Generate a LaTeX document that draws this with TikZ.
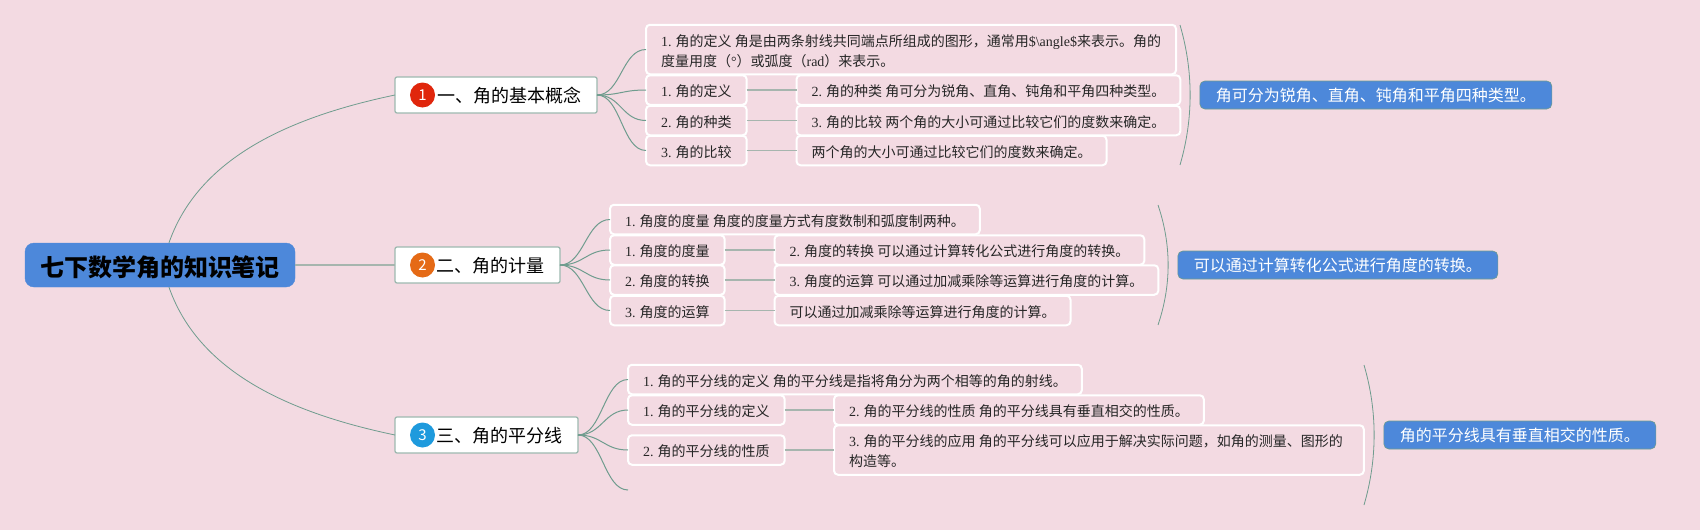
\documentclass[tikz,border=0pt]{standalone}
\usepackage{fontspec}
\setmainfont{Liberation Serif}
\newfontfamily\cjk{Noto Sans CJK SC}
\usepackage{xcolor}
\usepackage{tikz}
\usetikzlibrary{positioning}
\definecolor{pagepink}{HTML}{F3DAE2}
\definecolor{rootblue}{HTML}{4D88DA}
\definecolor{linegreen}{HTML}{6F9C8E}
\definecolor{stemgray}{HTML}{A6B5AE}
\definecolor{edgegreen}{HTML}{9DB9B0}
\newcommand{\lat}[1]{{\rmfamily #1}}

\begin{document}
\begin{tikzpicture}[
  x=1pt, y=-1pt,
  font=\fontsize{14}{20}\selectfont\cjk,
  rootnode/.style={draw=rootblue, fill=rootblue, rounded corners=9pt, minimum width=270pt, minimum height=44pt, text height=24pt, text depth=2pt, font=\fontsize{24}{28}\selectfont\cjk\bfseries},
  branch/.style={draw=edgegreen, fill=white, line width=1.3pt, rounded corners=2pt, anchor=west, outer sep=0pt, minimum height=36pt, inner xsep=16pt, text height=17pt, text depth=1.5pt, align=right, font=\fontsize{18}{22}\selectfont\cjk},
  badge/.style={circle, minimum size=25pt, inner sep=0pt, text=white, font=\fontsize{15}{15}\selectfont\cjk},
  leaf/.style={draw=white, line width=2pt, rounded corners=4pt, anchor=west, outer sep=0pt, inner xsep=15pt, inner ysep=2pt, minimum height=29.5pt, text height=14pt, text depth=1pt, align=left, text=black!85},
  tall/.style={minimum height=49.5pt, text height=34pt, text depth=1pt},
  summary/.style={draw=linegreen, fill=rootblue, line width=0.6pt, rounded corners=5pt, anchor=west, inner xsep=16pt, minimum height=28pt, text height=15pt, text depth=2pt, text=white, font=\fontsize{16}{20}\selectfont\cjk},
  twig/.style={draw=linegreen, line width=1pt},
  limb/.style={draw=linegreen, line width=0.8pt},
  stem/.style={draw=stemgray, line width=1.8pt}
]

\fill[pagepink] (0,0) rectangle (1700,530);

\node[rootnode] (root) at (160,265) {七下数学角的知识笔记};

\node[branch, text width=170pt] (b1) at (395,95) {一、角的基本概念};
\node[branch, text width=133pt] (b2) at (395,265) {二、角的计量};
\node[branch, text width=151pt] (b3) at (395,435) {三、角的平分线};
\foreach \nm/\num/\col in {b1/1/E0260C,b2/2/E56A16,b3/3/1E9ADD} {
  \definecolor{badgecol}{HTML}{\col}
  \node[badge, fill=badgecol] (n\num) at ([xshift=27.5pt]\nm.west) {\num};
}

\draw[limb] (root.68) .. controls (198,160) and (285,118) .. (b1.west);
\draw[limb] (root.-68) .. controls (198,370) and (285,412) .. (b3.west);
\draw[stem] (root.east) -- (b2.west);

\node[leaf, tall] (a0) at (646,49.5) {\lat{1.} 角的定义 角是由两条射线共同端点所组成的图形，通常用\lat{\$\textbackslash angle\$}来表示。角的\\度量用度（\lat{°}）或弧度（\lat{rad}）来表示。};
\foreach \nm/\y/\txt in {a1/90/{\lat{1.} 角的定义},a2/120.5/{\lat{2.} 角的种类},a3/150.5/{\lat{3.} 角的比较}} {
  \node[leaf] (\nm) at (646,\y) {\txt};
}
\foreach \nm/\y/\txt in {d1/90/{\lat{2.} 角的种类 角可分为锐角、直角、钝角和平角四种类型。},d2/120.5/{\lat{3.} 角的比较 两个角的大小可通过比较它们的度数来确定。},d3/150.5/{两个角的大小可通过比较它们的度数来确定。}} {
  \node[leaf] (\nm) at (796.5,\y) {\txt};
}

\node[leaf] (e0) at (610,219.5) {\lat{1.} 角度的度量 角度的度量方式有度数制和弧度制两种。};
\foreach \nm/\y/\txt in {e1/250/{\lat{1.} 角度的度量},e2/280/{\lat{2.} 角度的转换},e3/310.5/{\lat{3.} 角度的运算}} {
  \node[leaf] (\nm) at (610,\y) {\txt};
}
\foreach \nm/\y/\txt in {f1/250/{\lat{2.} 角度的转换 可以通过计算转化公式进行角度的转换。},f2/280/{\lat{3.} 角度的运算 可以通过加减乘除等运算进行角度的计算。},f3/310.5/{可以通过加减乘除等运算进行角度的计算。}} {
  \node[leaf] (\nm) at (774.5,\y) {\txt};
}

\node[leaf] (g0) at (628,379.5) {\lat{1.} 角的平分线的定义 角的平分线是指将角分为两个相等的角的射线。};
\node[leaf] (g1) at (628,410) {\lat{1.} 角的平分线的定义};
\node[leaf] (g2) at (628,450) {\lat{2.} 角的平分线的性质};
\coordinate (g3) at (628,490);
\node[leaf] (h1) at (834,410) {\lat{2.} 角的平分线的性质 角的平分线具有垂直相交的性质。};
\node[leaf, tall] (h2) at (834,450) {\lat{3.} 角的平分线的应用 角的平分线可以应用于解决实际问题，如角的测量、图形的\kern6pt\\构造等。};

\foreach \k in {a0,a1,a2,a3} {\draw[twig] (b1.east) .. controls +(24,0) and +(-24,0) .. (\k.west);}
\foreach \k in {e0,e1,e2,e3} {\draw[twig] (b2.east) .. controls +(24,0) and +(-24,0) .. (\k.west);}
\foreach \k in {g0,g1,g2} {\draw[twig] (b3.east) .. controls +(24,0) and +(-24,0) .. (\k.west);}
\draw[twig] (b3.east) .. controls +(24,0) and +(-24,0) .. (g3);

\foreach \p/\q in {a1/d1,a2/d2,a3/d3,e1/f1,e2/f2,e3/f3,g1/h1,g2/h2} {
  \draw[stem] (\p.east) -- (\q.west);
}

\coordinate (ta) at (1180,25);
\coordinate (ba) at (1180,165);
\coordinate (tb) at (1158,205);
\coordinate (bb) at (1158,325);
\coordinate (tc) at (1364,365);
\coordinate (bc) at (1364,505);
\draw[limb] (ta) .. controls +(13.5,46) and +(13.5,-46) .. (ba);
\draw[limb] (tb) .. controls +(13.5,40) and +(13.5,-40) .. (bb);
\draw[limb] (tc) .. controls +(13.5,46) and +(13.5,-46) .. (bc);

\node[summary] (s1) at (1199.5,95) {角可分为锐角、直角、钝角和平角四种类型。};
\node[summary] (s2) at (1177.5,265) {可以通过计算转化公式进行角度的转换。};
\node[summary] (s3) at (1383.5,435) {角的平分线具有垂直相交的性质。};
\end{tikzpicture}
\end{document}
